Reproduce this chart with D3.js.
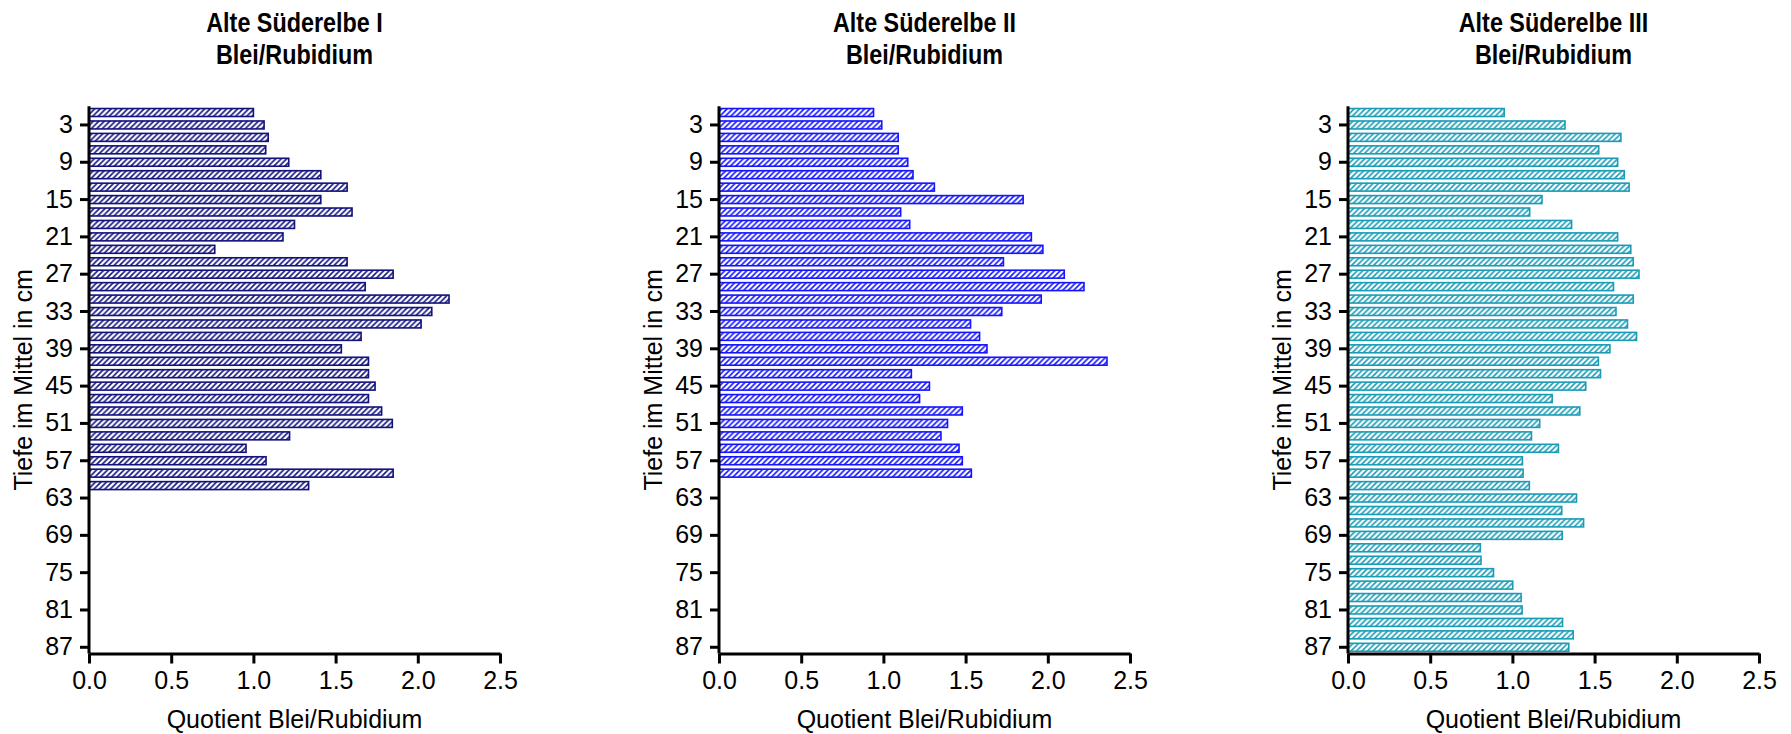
<!DOCTYPE html>
<html>
<head>
<meta charset="utf-8">
<script src="https://cdn.jsdelivr.net/npm/d3@7"></script>
<style>
  body { margin: 0; background: #fff; }
  text { font-family: "Liberation Sans", Arial, sans-serif; fill: #000; }
</style>
</head>
<body>
<div id="chart"></div>
<script>
// depth classes (cm, middle of each 2 cm slice)
var depths = [1, 3, 5, 7, 9, 11, 13, 15, 17, 19, 21, 23, 25, 27, 29, 31, 33, 35, 37, 39, 41, 43,
              45, 47, 49, 51, 53, 55, 57, 59, 61, 63, 65, 67, 69, 71, 73, 75, 77, 79, 81, 83, 85, 87];
var depthTicks = [3, 9, 15, 21, 27, 33, 39, 45, 51, 57, 63, 69, 75, 81, 87];
var xTicks = [0.0, 0.5, 1.0, 1.5, 2.0, 2.5];

var titles = ["Alte Süderelbe I", "Alte Süderelbe II", "Alte Süderelbe III"];
var subtitle = "Blei/Rubidium";

// quotient Pb/Rb, from top (1 cm) downwards
var valuesI = [1.00, 1.065, 1.09, 1.075, 1.215, 1.41, 1.57, 1.41, 1.60, 1.25, 1.18, 0.765,
               1.57, 1.85, 1.68, 2.19, 2.085, 2.02, 1.655, 1.535, 1.70, 1.70, 1.74, 1.70,
               1.78, 1.845, 1.22, 0.955, 1.077, 1.85, 1.336];
var valuesII = [0.94, 0.99, 1.09, 1.09, 1.148, 1.18, 1.31, 1.85, 1.105, 1.16, 1.90, 1.97,
                1.73, 2.10, 2.22, 1.96, 1.72, 1.53, 1.585, 1.63, 2.36, 1.17, 1.28, 1.22,
                1.48, 1.39, 1.35, 1.46, 1.48, 1.535];
var valuesIII = [0.95, 1.32, 1.66, 1.525, 1.64, 1.68, 1.71, 1.18, 1.105, 1.36, 1.64, 1.72,
                 1.735, 1.77, 1.615, 1.735, 1.63, 1.70, 1.755, 1.593, 1.523, 1.536, 1.446, 1.242,
                 1.41, 1.166, 1.116, 1.28, 1.061, 1.065, 1.103, 1.39, 1.30, 1.433, 1.303, 0.805,
                 0.809, 0.885, 1.002, 1.053, 1.059, 1.305, 1.37, 1.343];

var series = [valuesI, valuesII, valuesIII];
var colors = ["#12127f", "#1414ff", "#1a9cb6"];
var panelLeft = [89, 719, 1348];

var W = 1791, H = 734;
var plotW = 411, plotTop = 106.3, plotBottom = 653.5;

var svg = d3.select("#chart").append("svg")
    .attr("width", W)
    .attr("height", H);

var defs = svg.append("defs");
colors.forEach(function(c, i) {
    var p = defs.append("pattern")
        .attr("id", "hatch" + i)
        .attr("patternUnits", "userSpaceOnUse")
        .attr("width", 5.5)
        .attr("height", 5.5);
    p.append("rect").attr("width", 5.5).attr("height", 5.5).attr("fill", "#fff");
    p.append("path")
        .attr("d", "M0,5.5L5.5,0M-1.4,1.4L1.4,-1.4M4.1,6.9L6.9,4.1")
        .attr("stroke", c)
        .attr("stroke-width", 1.6);
});

var y = d3.scaleBand()
    .domain(depths)
    .range([plotTop, plotBottom])
    .paddingInner(0.36)
    .paddingOuter(0.18);

function draw_panel(k) {
    var x0 = panelLeft[k];
    var x = d3.scaleLinear().domain([0, 2.5]).range([x0, x0 + plotW]);
    var g = svg.append("g");
    var data = series[k];

    g.selectAll(".bar").data(data)
      .enter().append("rect")
        .attr("class", "bar")
        .attr("x", x(0))
        .attr("y", function(d, i) { return y(depths[i]); })
        .attr("width", function(d) { return x(d) - x(0); })
        .attr("height", y.bandwidth())
        .attr("fill", "url(#hatch" + k + ")")
        .attr("stroke", colors[k])
        .attr("stroke-width", 1.6);

    // x axis
    var xAxis = g.append("g")
        .attr("transform", "translate(0," + plotBottom + ")")
        .call(d3.axisBottom(x).tickValues(xTicks).tickFormat(d3.format(".1f"))
              .tickSize(10).tickSizeOuter(0).tickPadding(8));
    xAxis.select(".domain").attr("stroke-width", 3);
    xAxis.selectAll(".tick line").attr("stroke-width", 3);
    xAxis.selectAll("text").attr("font-size", 25).style("font-family", "Liberation Sans, Arial");

    // y axis
    var yAxis = g.append("g")
        .attr("transform", "translate(" + x(0) + ",0)")
        .call(d3.axisLeft(y).tickValues(depthTicks).tickSize(9).tickSizeOuter(0).tickPadding(7));
    yAxis.select(".domain").attr("stroke-width", 3)
        .attr("d", "M0," + plotTop + "V" + plotBottom);
    yAxis.selectAll(".tick line").attr("stroke-width", 3);
    yAxis.selectAll("text").attr("font-size", 25).style("font-family", "Liberation Sans, Arial");

    // titles (the original uses a condensed bold face)
    var cx = x0 + plotW / 2;
    [[titles[k], 32], [subtitle, 64]].forEach(function(t) {
        g.append("text")
            .attr("transform", "translate(" + cx + "," + t[1] + ") scale(0.82,1)")
            .attr("text-anchor", "middle")
            .attr("font-size", 28.5).attr("font-weight", "bold")
            .text(t[0]);
    });

    g.append("text")
        .attr("x", cx).attr("y", 728)
        .attr("text-anchor", "middle")
        .attr("font-size", 25)
        .text("Quotient Blei/Rubidium");

    g.append("text")
        .attr("transform", "translate(" + (x0 - 57) + "," + ((plotTop + plotBottom) / 2) + ") rotate(-90)")
        .attr("text-anchor", "middle")
        .attr("font-size", 25)
        .text("Tiefe im Mittel in cm");
}

[0, 1, 2].forEach(draw_panel);
</script>
</body>
</html>
